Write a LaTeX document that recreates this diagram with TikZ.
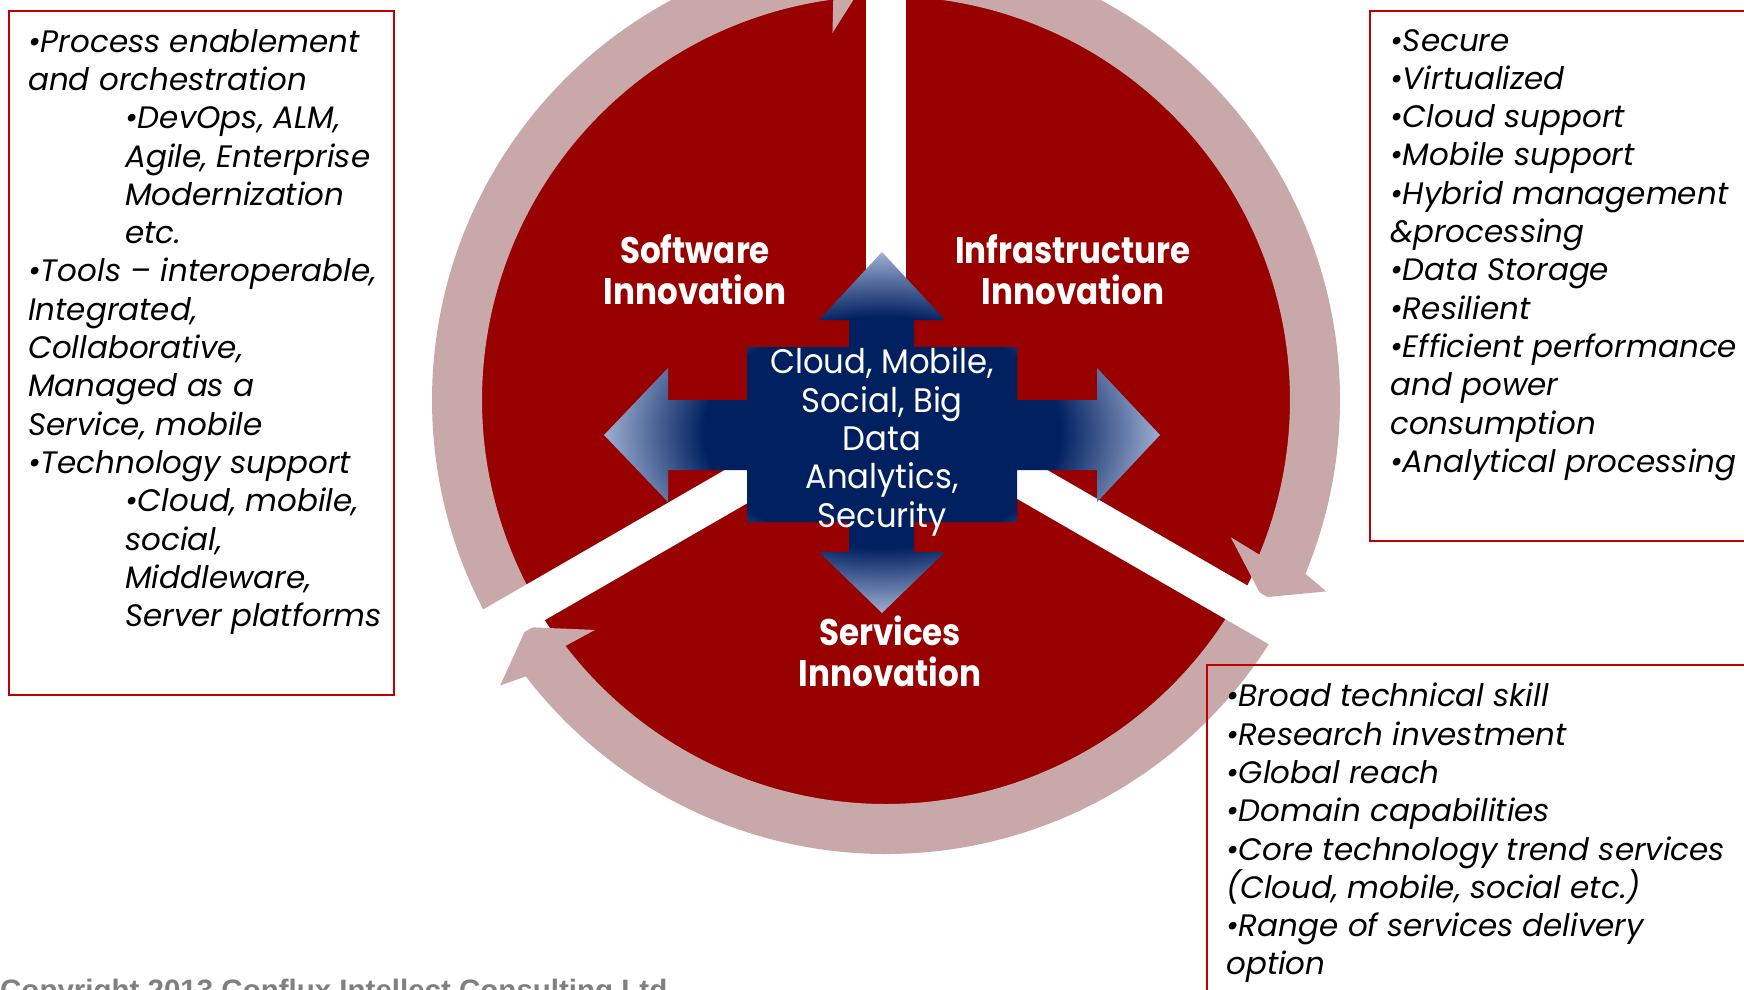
\documentclass[tikz,border=0pt]{standalone}
\usepackage{fontspec}
\setmainfont{Poppins}
\newfontfamily\headfont[FakeStretch=0.88]{Poppins}
\newfontfamily\midfont[FakeStretch=0.95]{Poppins}
\newfontfamily\notefont{Liberation Sans}
\definecolor{diskred}{RGB}{153,0,0}
\definecolor{ringpink}{RGB}{201,168,169}
\definecolor{boxred}{RGB}{192,0,0}
\definecolor{crossnavy}{RGB}{0,32,96}
\definecolor{crosslight}{RGB}{175,190,222}
\pgfdeclareradialshading{crossglow}{\pgfpointorigin}{color(0bp)=(crossnavy); color(16bp)=(crossnavy); color(26bp)=(crosslight); color(50bp)=(crosslight)}
\begin{document}
\begin{tikzpicture}[x=1pt,y=-1pt,
  boxline/.style={draw=boxred,line width=2pt},
  boxtext/.style={anchor=north west,align=left,inner sep=0pt,font=\fontsize{31}{38.3}\selectfont\itshape},
  headtext/.style={align=center,text=white,inner sep=0pt,font=\headfont\bfseries\fontsize{37}{41}\selectfont},
  midtext/.style={align=center,text=white,inner sep=0pt,font=\midfont\fontsize{34}{38.3}\selectfont}]
\useasboundingbox (0,0) rectangle (1744,989);
\clip (0,0) rectangle (1744,989);
\begin{scope}[shift={(886,400)}]
\fill[diskred] (0,0) circle[radius=406];
\foreach \a/\s in {150/270, 270/390, 30/150}
  \fill[ringpink] (\a:454) arc[start angle=\a, end angle=\s-7.5, radius=454]
    -- (\s-6.5:480) -- (\s-2.3:425) -- (\s-8.3:371) -- (\s-7.5:404)
    arc[start angle=\s-7.5, end angle=\a, radius=404] -- cycle;
\foreach \s in {-90,30,150}
  \draw[white,line width=40pt] (0,0) -- (\s:520);
\end{scope}
\shade[shading=crossglow] (882,252) -- (945,320) -- (914,320) -- (914,347) -- (1017,347)
  -- (1017,400) -- (1097,400) -- (1097,368) -- (1160,435) -- (1097,502) -- (1097,470)
  -- (1017,470) -- (1017,522) -- (914,522) -- (914,552) -- (945,552) -- (882,613)
  -- (819,552) -- (849,552) -- (849,522) -- (747,522) -- (747,470) -- (668,470)
  -- (668,502) -- (604,435) -- (668,368) -- (668,400) -- (747,400) -- (747,347)
  -- (849,347) -- (849,320) -- (819,320) -- cycle;
\node[headtext] (sw) at (695,270) {Software\\Innovation};
\node[headtext] (infra) at (1073,270) {Infrastructure\\Innovation};
\node[headtext] (serv) at (890,651) {Services\\Innovation};
\node[midtext] (core) at (882,442) {Cloud, Mobile,\\Social, Big\\Data\\Analytics,\\Security};
\draw[boxline] (9,11) rectangle (394,695);
\draw[boxline] (1370,11) rectangle (1760,541);
\draw[boxline] (1207,665) rectangle (1760,1000);
\node[boxtext] (swlist) at (28,29) {%
  •Process enablement\\
  and orchestration\\
  \hspace*{97pt}•DevOps, ALM,\\
  \hspace*{97pt}Agile, Enterprise\\
  \hspace*{97pt}Modernization\\
  \hspace*{97pt}etc.\\
  •Tools – interoperable,\\
  Integrated,\\
  Collaborative,\\
  Managed as a\\
  Service, mobile\\
  •Technology support\\
  \hspace*{97pt}•Cloud, mobile,\\
  \hspace*{97pt}social,\\
  \hspace*{97pt}Middleware,\\
  \hspace*{97pt}Server platforms};
\node[boxtext] (infralist) at (1390,29) {%
  •Secure\\
  •Virtualized\\
  •Cloud support\\
  •Mobile support\\
  •Hybrid management\\
  \&processing\\
  •Data Storage\\
  •Resilient\\
  •Efficient performance\\
  and power\\
  consumption\\
  •Analytical processing};
\node[boxtext] (servlist) at (1226,683) {%
  •Broad technical skill\\
  •Research investment\\
  •Global reach\\
  •Domain capabilities\\
  •Core technology trend services\\
  (Cloud, mobile, social etc.)\\
  •Range of services delivery\\
  option};
\node[anchor=base west,inner sep=0pt,text=gray,font=\notefont\bfseries\fontsize{29.5}{30}\selectfont] (copy) at (0,1000) {Copyright 2013 Conflux Intellect Consulting Ltd};
\end{tikzpicture}
\end{document}
